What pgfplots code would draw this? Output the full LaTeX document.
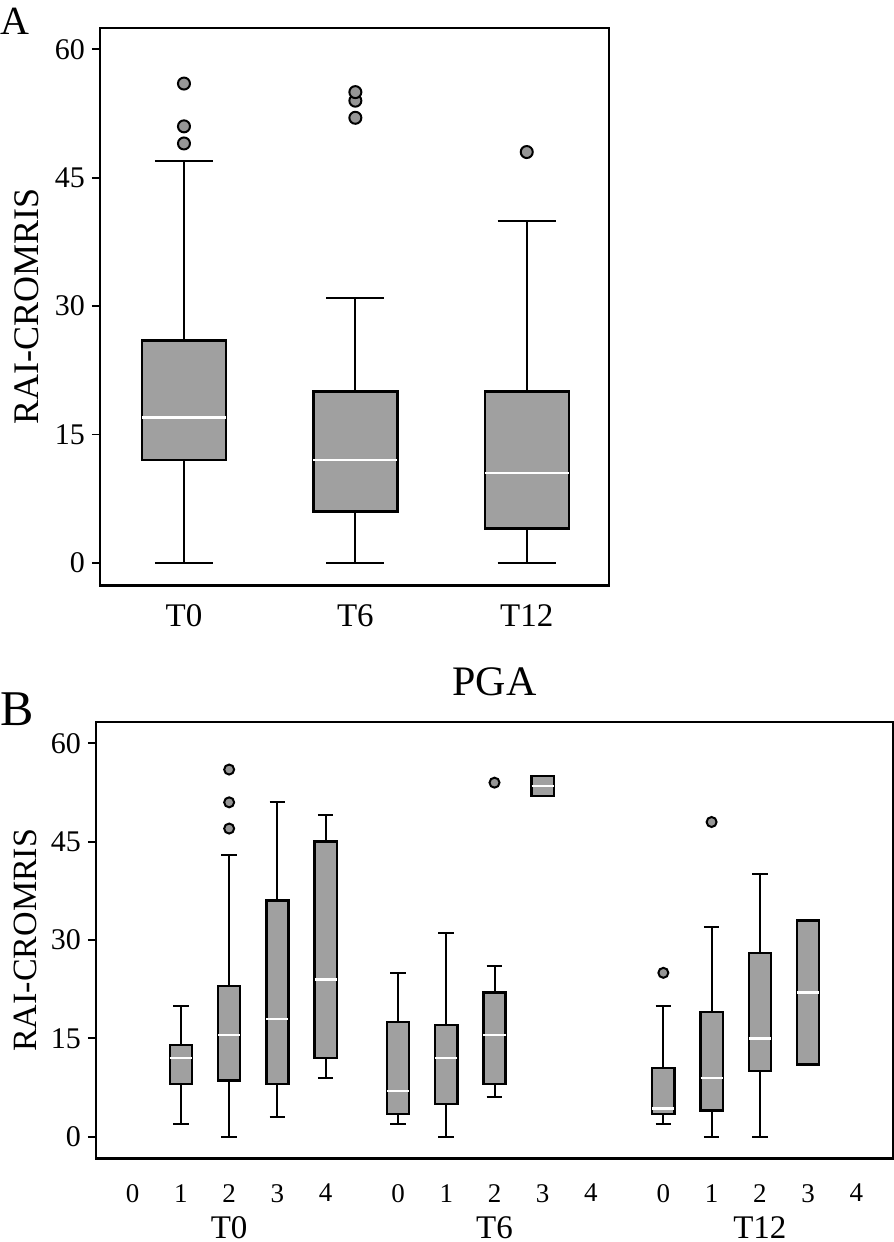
\documentclass[border=0pt]{standalone}
\usepackage{fontspec}
\setmainfont{Liberation Serif}
\usepackage{pgfplots}
\pgfplotsset{compat=1.18}
\usepgfplotslibrary{statistics}
\definecolor{boxgray}{RGB}{160,160,160}
\definecolor{outgray}{RGB}{150,150,150}
\pgfplotsset{
  bpA/.style={
    boxplot/draw direction=y,
    boxplot/every box/.style={draw=black, line width=1.2pt, fill=boxgray},
    boxplot/every median/.style={draw=white, line width=1.3pt},
    boxplot/every whisker/.style={draw=black, line width=1pt},
    black, mark=*, mark size=3pt,
    mark options={fill=outgray, draw=black, line width=1pt, solid},
  },
  bpB/.style={
    boxplot/draw direction=y,
    boxplot/every box/.style={draw=black, line width=1.2pt, fill=boxgray},
    boxplot/every median/.style={draw=white, line width=1.2pt},
    boxplot/every whisker/.style={draw=black, line width=1pt},
    black, mark=*, mark size=2.5pt,
    mark options={fill=outgray, draw=black, line width=1pt, solid},
  },
  common/.style={
    scale only axis,
    axis line style={line width=1.2pt},
    tick align=outside,
    ytick pos=left,
    xtick pos=bottom,
    major tick length=4pt,
    ytick style={line width=0.9pt, black},
    xtick style={draw=none},
    ytick={0,15,30,45,60},
    /pgf/number format/assume math mode=true,
    clip=false,
  },
}
\begin{document}
\begin{tikzpicture}
\useasboundingbox (0,0) rectangle (447pt,-621pt);
% ---------------- Panel A ----------------
\begin{axis}[common,
  at={(50pt,-292.65pt)}, anchor=south west,
  width=254.5pt, height=278.65pt,
  xmin=0.51, xmax=3.48, ymin=-2.62, ymax=62.49,
  xtick={1,2,3}, xticklabels={T0,T6,T12},
  yticklabel style={font=\fontsize{15}{15}\selectfont},
  xticklabel style={font=\fontsize{16.5}{16.5}\selectfont, yshift=-2pt},
  ylabel={RAI-CROMRIS},
  ylabel style={at={(rel axis cs:-0.1442,0.5)}, anchor=center, font=\fontsize{18}{18}\selectfont},
]
\addplot[bpA, boxplot prepared={lower whisker=0, lower quartile=12, median=17, upper quartile=26, upper whisker=47, draw position=1, box extend=0.49, whisker extend=0.34}] coordinates {(1,49) (1,51) (1,56)};
\addplot[bpA, boxplot prepared={lower whisker=0, lower quartile=6, median=12, upper quartile=20, upper whisker=31, draw position=2, box extend=0.49, whisker extend=0.34}] coordinates {(2,52) (2,54) (2,55)};
\addplot[bpA, boxplot prepared={lower whisker=0, lower quartile=4, median=10.5, upper quartile=20, upper whisker=40, draw position=3, box extend=0.49, whisker extend=0.34}] coordinates {(3,48)};
\node[anchor=base west, inner sep=0pt, font=\fontsize{20}{20}\selectfont] at (rel axis cs:-0.1965,0.9892) {A};
\end{axis}
% ---------------- Panel B ----------------
\begin{axis}[common,
  at={(48pt,-579.25pt)}, anchor=south west,
  width=398.5pt, height=218.25pt,
  xmin=-0.76, xmax=15.76, ymin=-3.32, ymax=63.25,
  xtick={0,1,2,3,4,5.5,6.5,7.5,8.5,9.5,11,12,13,14,15},
  xticklabels={0,1,2,3,4,0,1,2,3,4,0,1,2,3,4},
  yticklabel style={font=\fontsize{15}{15}\selectfont},
  xticklabel style={font=\fontsize{13.5}{13.5}\selectfont, yshift=-5.3pt},
  ylabel={RAI-CROMRIS},
  ylabel style={at={(rel axis cs:-0.0891,0.5)}, anchor=center, font=\fontsize{17}{17}\selectfont},
  title={PGA},
  title style={at={(rel axis cs:0.5,1)}, anchor=base, yshift=7.5pt, font=\fontsize{21}{21}\selectfont},
]
% T0 group
\addplot[bpB, boxplot prepared={lower whisker=2, lower quartile=8, median=12, upper quartile=14, upper whisker=20, draw position=1, box extend=0.46, whisker extend=0.325}] coordinates {};
\addplot[bpB, boxplot prepared={lower whisker=0, lower quartile=8.6, median=15.5, upper quartile=23, upper whisker=43, draw position=2, box extend=0.46, whisker extend=0.325}] coordinates {(2,47) (2,51) (2,56)};
\addplot[bpB, boxplot prepared={lower whisker=3, lower quartile=8, median=18, upper quartile=36, upper whisker=51, draw position=3, box extend=0.46, whisker extend=0.325}] coordinates {};
\addplot[bpB, boxplot prepared={lower whisker=9, lower quartile=12, median=24, upper quartile=45, upper whisker=49, draw position=4, box extend=0.46, whisker extend=0.325}] coordinates {};
% T6 group
\addplot[bpB, boxplot prepared={lower whisker=2, lower quartile=3.5, median=7, upper quartile=17.5, upper whisker=25, draw position=5.5, box extend=0.46, whisker extend=0.325}] coordinates {};
\addplot[bpB, boxplot prepared={lower whisker=0, lower quartile=5, median=12, upper quartile=17, upper whisker=31, draw position=6.5, box extend=0.46, whisker extend=0.325}] coordinates {};
\addplot[bpB, boxplot prepared={lower whisker=6, lower quartile=8, median=15.5, upper quartile=22, upper whisker=26, draw position=7.5, box extend=0.46, whisker extend=0.325}] coordinates {(7.5,54)};
\addplot[bpB, boxplot prepared={lower whisker=52, lower quartile=52, median=53.5, upper quartile=55, upper whisker=55, draw position=8.5, box extend=0.46, whisker extend=0}] coordinates {};
% T12 group
\addplot[bpB, boxplot prepared={lower whisker=2, lower quartile=3.5, median=4.3, upper quartile=10.5, upper whisker=20, draw position=11, box extend=0.46, whisker extend=0.325}] coordinates {(11,25)};
\addplot[bpB, boxplot prepared={lower whisker=0, lower quartile=4, median=9, upper quartile=19, upper whisker=32, draw position=12, box extend=0.46, whisker extend=0.325}] coordinates {(12,48)};
\addplot[bpB, boxplot prepared={lower whisker=0, lower quartile=10, median=15, upper quartile=28, upper whisker=40, draw position=13, box extend=0.46, whisker extend=0.325}] coordinates {};
\addplot[bpB, boxplot prepared={lower whisker=11, lower quartile=11, median=22, upper quartile=33, upper whisker=33, draw position=14, box extend=0.46, whisker extend=0}] coordinates {};
% group labels
\node[anchor=base, inner sep=0pt, yshift=-40.2pt, font=\fontsize{16.5}{16.5}\selectfont] at (axis cs:2,-3.32) {T0};
\node[anchor=base, inner sep=0pt, yshift=-40.2pt, font=\fontsize{16.5}{16.5}\selectfont] at (axis cs:7.5,-3.32) {T6};
\node[anchor=base, inner sep=0pt, yshift=-40.2pt, font=\fontsize{16.5}{16.5}\selectfont] at (axis cs:13,-3.32) {T12};
\node[anchor=base west, inner sep=0pt, font=\fontsize{25}{25}\selectfont] at (rel axis cs:-0.1205,0.9931) {B};
\end{axis}
\end{tikzpicture}
\end{document}
